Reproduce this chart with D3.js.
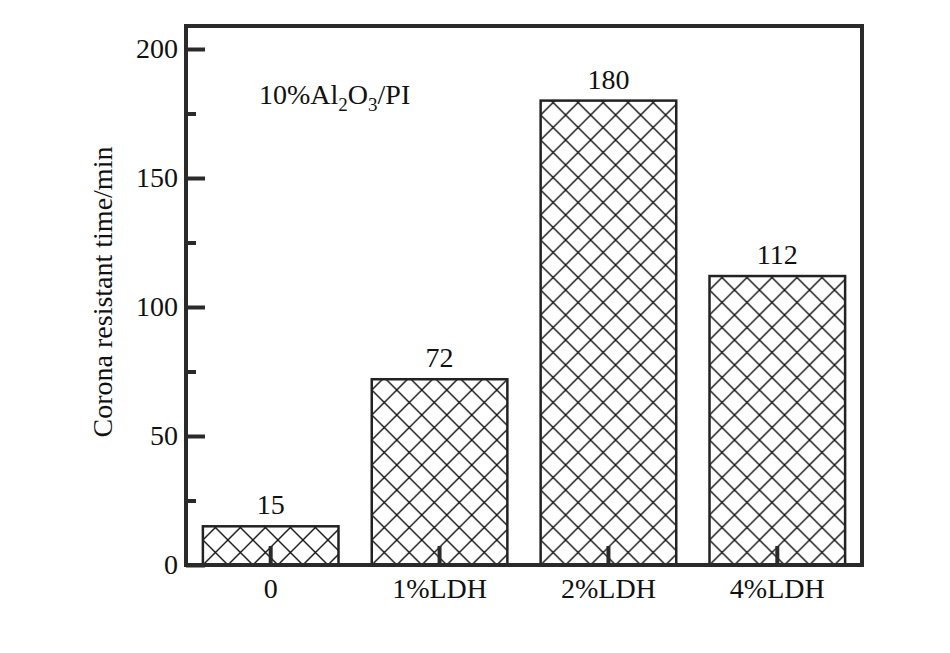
<!DOCTYPE html>
<html><head><meta charset="utf-8">
<script src="https://cdn.jsdelivr.net/npm/d3@7"></script>
<style>body{margin:0;background:#fff}svg{display:block}</style>
</head><body>
<script>
const categories = ["0", "1%LDH", "2%LDH", "4%LDH"];
const values = [15, 72, 180, 112];
const yTicks = [0, 50, 100, 150, 200];
const yMinorTicks = [25, 75, 125, 175];

const W = 950, H = 653;
const L = 186, R = 862, T = 26, B = 565;
const svg = d3.select("body").append("svg").attr("width", W).attr("height", H);
const font = "'Liberation Serif','Times New Roman',serif";
const fs = "28px";

const x = d3.scaleBand().domain(categories).range([L, R]).paddingInner(0.197).paddingOuter(0.1);
const y = d3.scaleLinear().domain([0, 200]).range([B, 49]);

const defs = svg.append("defs");
const sp = 25;
categories.forEach((c, i) => {
  const p = defs.append("pattern").attr("id", "hatch" + i)
    .attr("patternUnits", "userSpaceOnUse")
    .attr("x", x(c)).attr("y", B).attr("width", sp).attr("height", sp);
  p.append("path").attr("d", `M0,0L${sp},${sp}M${sp},0L0,${sp}M-2,${sp-2}L2,${sp+2}M${sp-2},-2L${sp+2},2`)
    .attr("stroke", "#111").attr("stroke-width", 1.4).attr("fill", "none");
});

// bars
svg.selectAll("rect.bar").data(values).enter().append("rect")
  .attr("class", "bar")
  .attr("x", (d, i) => x(categories[i]))
  .attr("y", d => y(d))
  .attr("width", x.bandwidth())
  .attr("height", d => B - y(d))
  .attr("fill", (d, i) => `url(#hatch${i})`)
  .attr("stroke", "#222").attr("stroke-width", 2.5);

// value labels
svg.selectAll("text.val").data(values).enter().append("text")
  .attr("x", (d, i) => x(categories[i]) + x.bandwidth() / 2)
  .attr("y", d => y(d) - 12)
  .attr("text-anchor", "middle")
  .style("font-family", font).style("font-size", fs).attr("fill", "#111")
  .text(d => d);

// frame
svg.append("rect").attr("x", L).attr("y", T).attr("width", R - L).attr("height", B - T)
  .attr("fill", "none").attr("stroke", "#2a2a2a").attr("stroke-width", 4);

// y axis
const yAxis = d3.axisLeft(y).tickValues(yTicks).tickSize(-19).tickPadding(10);
const gy = svg.append("g").attr("transform", `translate(${L},0)`).call(yAxis);
gy.select(".domain").remove();
gy.selectAll(".tick line").attr("stroke", "#2a2a2a").attr("stroke-width", 4);
gy.selectAll(".tick text").style("font-family", font).style("font-size", fs).attr("fill", "#111").attr("x", -8);
const yMinor = d3.axisLeft(y).tickValues(yMinorTicks).tickSize(-10).tickFormat("");
const gym = svg.append("g").attr("transform", `translate(${L},0)`).call(yMinor);
gym.select(".domain").remove();
gym.selectAll(".tick line").attr("stroke", "#2a2a2a").attr("stroke-width", 4);

// x axis
const xAxis = d3.axisBottom(x).tickSize(-19).tickPadding(13);
const gx = svg.append("g").attr("transform", `translate(0,${B})`).call(xAxis);
gx.select(".domain").remove();
gx.selectAll(".tick line").attr("stroke", "#2a2a2a").attr("stroke-width", 4);
gx.selectAll(".tick text").style("font-family", font).style("font-size", fs).attr("fill", "#111");

// y title
svg.append("text")
  .attr("transform", `translate(112,292) rotate(-90)`)
  .attr("text-anchor", "middle")
  .style("font-family", font).style("font-size", fs).attr("fill", "#111")
  .text("Corona resistant time/min");

// annotation
const ann = svg.append("text").attr("x", 259).attr("y", 104)
  .style("font-family", font).style("font-size", fs).attr("fill", "#111");
ann.append("tspan").text("10%Al");
ann.append("tspan").attr("dy", 7).style("font-size", "19px").text("2");
ann.append("tspan").attr("dy", -7).text("O");
ann.append("tspan").attr("dy", 7).style("font-size", "19px").text("3");
ann.append("tspan").attr("dy", -7).text("/PI");
</script>
</body></html>
